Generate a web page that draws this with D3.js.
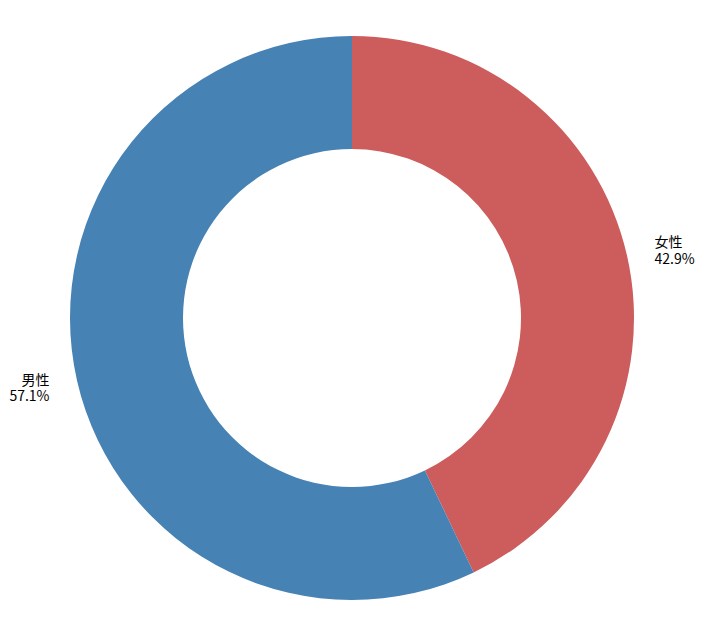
<!DOCTYPE html>
<html><head><meta charset="utf-8">
<script src="https://cdn.jsdelivr.net/npm/d3@7"></script>
<style>body{margin:0;background:#fff}svg{display:block}</style>
</head><body>
<svg id="c" width="704" height="636"></svg>
<script>
const categories = ["女性", "男性"];
const values = [42.9, 57.1];
const colors = ["#CD5C5C", "#4682B4"];

const svg = d3.select("#c");
const cx = 352, cy = 318, R = 282, r0 = 169;
const g = svg.append("g").attr("transform", `translate(${cx},${cy})`);
const data = categories.map((c, i) => ({c, v: values[i], col: colors[i]}));
const pie = d3.pie().value(d => d.v).sort(null);
const arc = d3.arc().innerRadius(r0).outerRadius(R);
const arcs = pie(data);
g.selectAll("path").data(arcs).join("path")
  .attr("d", arc).attr("fill", d => d.data.col);

const lr = R * 1.1;
arcs.forEach(a => {
  const m = (a.startAngle + a.endAngle) / 2;
  const x = Math.sin(m) * lr, y = -Math.cos(m) * lr;
  const right = x > 0;
  const t = g.append("text")
    .attr("x", x).attr("y", y)
    .attr("text-anchor", right ? "start" : "end")
    .attr("font-family", "'Noto Sans CJK JP', 'Noto Sans', sans-serif")
    .attr("font-size", 14).attr("fill", "#000");
  t.append("tspan").attr("x", x).attr("dy", "-0.15em").text(a.data.c);
  t.append("tspan").attr("x", x).attr("dy", "1.2em").text(a.data.v.toFixed(1) + "%");
});
</script>
</body></html>
